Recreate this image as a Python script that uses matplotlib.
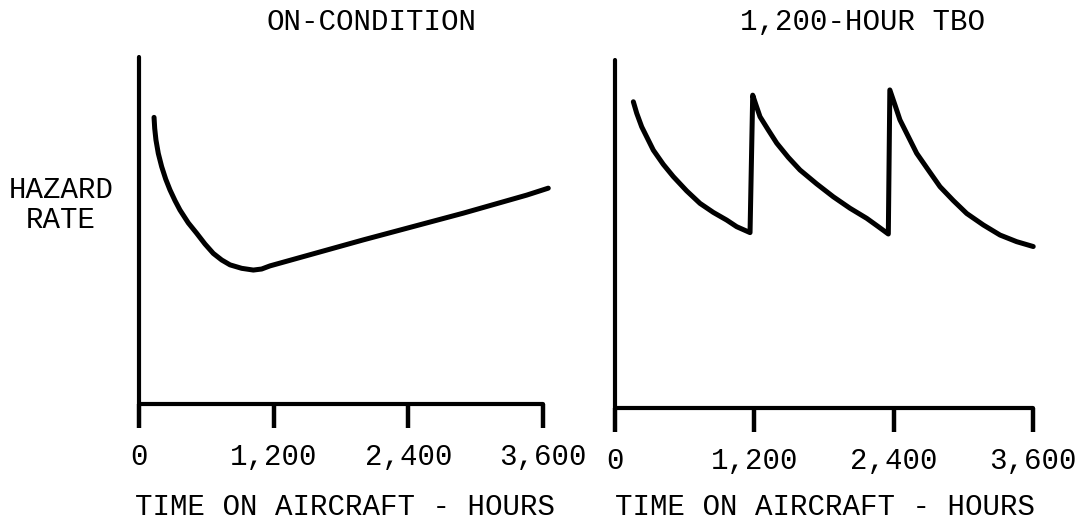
import matplotlib
matplotlib.use("Agg")
import matplotlib.pyplot as plt

# ---- data ----
tick_values = [0, 1200, 2400, 3600]
tick_labels = ["0", "1,200", "2,400", "3,600"]

oncond_hours = [134, 140, 151, 172, 202, 238, 276, 321, 365, 439, 514, 588,
                662, 737, 811, 915, 1019, 1093, 1167, 1999, 2890, 3455, 3647]
oncond_rate = [8.26, 7.94, 7.61, 7.22, 6.84, 6.48, 6.17, 5.86, 5.59, 5.22,
               4.92, 4.61, 4.34, 4.15, 4.01, 3.91, 3.86, 3.89, 3.98, 4.73,
               5.50, 6.02, 6.22]

tbo_hours = [158, 187, 230, 330, 416, 502, 617, 732, 847, 962, 1048, 1163,
             1186, 1214, 1249, 1320, 1393, 1493, 1593, 1737, 1880, 2024,
             2168, 2268, 2354,
             2367, 2411, 2454, 2526, 2598, 2698, 2799, 2914, 3029, 3172,
             3316, 3459, 3602]
tbo_rate = [8.80, 8.47, 8.08, 7.41, 7.00, 6.65, 6.24, 5.88, 5.62, 5.40, 5.21,
            5.04,
            8.99, 8.71, 8.37, 7.99, 7.61, 7.20, 6.84, 6.44, 6.07, 5.74,
            5.45, 5.21, 5.00,
            9.14, 8.71, 8.28, 7.80, 7.32, 6.84, 6.36, 5.96, 5.59, 5.26,
            4.97, 4.78, 4.64]

titles = ["ON-CONDITION", "1,200-HOUR TBO"]
xlabel = "TIME ON AIRCRAFT - HOURS"
ylabel = "HAZARD\nRATE"

FONT = "Liberation Mono"
FS = 21
FW = "normal"

W, H = 1091, 530
fig = plt.figure(figsize=(W / 100, H / 100), dpi=100)
fig.patch.set_facecolor("white")


def frac(x0, y0, x1, y1):
    return [x0 / W, 1 - y1 / H, (x1 - x0) / W, (y1 - y0) / H]


ax1 = fig.add_axes(frac(139, 57, 543, 404))
ax2 = fig.add_axes(frac(615, 60, 1033, 408))

ax1.plot(oncond_hours, oncond_rate, color="black", lw=3.6,
         solid_capstyle="round", solid_joinstyle="round", clip_on=False)
ax2.plot(tbo_hours, tbo_rate, color="black", lw=3.6,
         solid_capstyle="round", solid_joinstyle="round", clip_on=False)

for ax in (ax1, ax2):
    ax.set_xlim(0, 3600)
    ax.set_ylim(0, 10)
    ax.set_facecolor("white")
    for s in ("top", "right"):
        ax.spines[s].set_visible(False)
    for s in ("left", "bottom"):
        ax.spines[s].set_linewidth(3)
        ax.spines[s].set_color("black")
        ax.spines[s].set_capstyle("round")
    ax.set_yticks([])
    ax.set_xticks(tick_values)
    ax.set_xticklabels(tick_labels, fontfamily=FONT, fontsize=FS,
                       fontweight=FW)
    ax.tick_params(axis="x", direction="out", length=17, width=3.2,
                   pad=11, colors="black")

# titles, axis labels
fig.text(371 / W, 1 - 22 / H, titles[0], ha="center", va="center",
         fontfamily=FONT, fontsize=FS, fontweight=FW)
fig.text(862 / W, 1 - 22 / H, titles[1], ha="center", va="center",
         fontfamily=FONT, fontsize=FS, fontweight=FW)
fig.text(345 / W, 1 - 507 / H, xlabel, ha="center", va="center",
         fontfamily=FONT, fontsize=FS, fontweight=FW)
fig.text(825 / W, 1 - 507 / H, xlabel, ha="center", va="center",
         fontfamily=FONT, fontsize=FS, fontweight=FW)
fig.text(61 / W, 1 - 205 / H, ylabel, ha="center", va="center",
         fontfamily=FONT, fontsize=FS, fontweight=FW, linespacing=1.05)

fig.savefig("out.png", dpi=100, facecolor="white")
